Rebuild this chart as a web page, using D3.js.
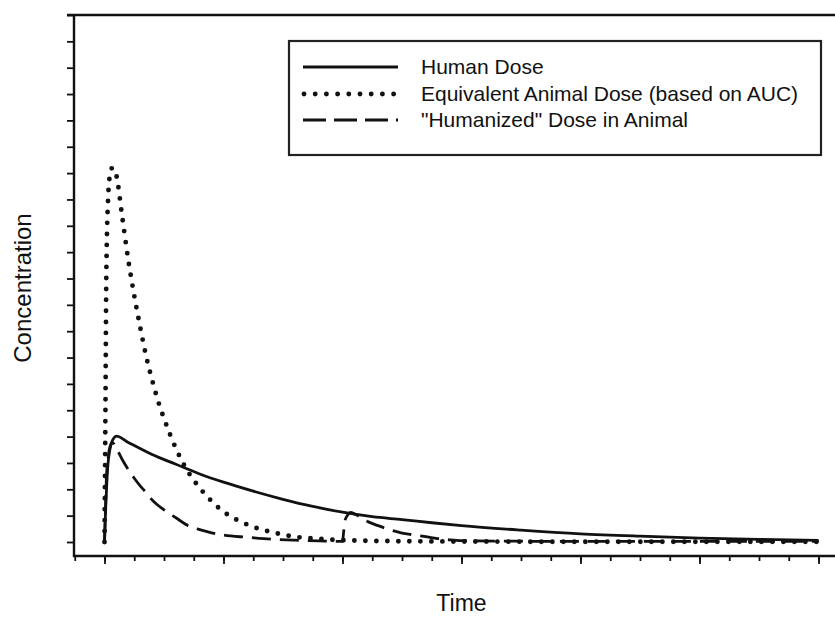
<!DOCTYPE html>
<html>
<head>
<meta charset="utf-8">
<script src="https://cdn.jsdelivr.net/npm/d3@7"></script>
<style>
  html, body { margin: 0; padding: 0; background: #fff; }
  svg { display: block; }
  text { font-family: "Liberation Sans", Arial, sans-serif; fill: #111; }
</style>
</head>
<body>
<svg id="chart" width="835" height="618"></svg>
<script>
// ---- Data ----
const humanTime = [0, 0.01, 0.02, 0.03, 0.045, 0.06, 0.08, 0.1, 0.2, 0.4, 0.6, 0.8, 1.0, 1.25, 1.5, 1.75, 2.0, 2.25, 2.5, 2.75, 3.0, 3.5, 4.0, 4.5, 5.0, 5.5, 6.0];
const humanConc = [0, 1.3, 2.3, 3.0, 3.5, 3.78, 3.95, 4.02, 3.78, 3.32, 2.95, 2.58, 2.27, 1.93, 1.62, 1.35, 1.13, 0.96, 0.85, 0.73, 0.62, 0.45, 0.31, 0.22, 0.15, 0.1, 0.06];

const animalTime = [0, 0.008, 0.015, 0.03, 0.045, 0.066, 0.1, 0.15, 0.2, 0.25, 0.3, 0.35, 0.4, 0.45, 0.5, 0.6, 0.7, 0.8, 0.9, 1.0, 1.1, 1.2, 1.3, 1.4, 1.5, 1.6, 1.8, 2.0, 2.5, 3.0, 4.0, 5.0, 6.0];
const animalConc = [0, 5, 10, 13, 13.9, 14.2, 13.9, 12.3, 10.7, 9.35, 8.15, 7.05, 6.15, 5.35, 4.69, 3.55, 2.68, 2.05, 1.55, 1.15, 0.87, 0.66, 0.5, 0.38, 0.28, 0.2, 0.12, 0.07, 0.03, 0.02, 0.01, 0.01, 0.01];

const humanizedTime = [0, 0.008, 0.015, 0.03, 0.045, 0.066, 0.1, 0.15, 0.2, 0.25, 0.3, 0.35, 0.4, 0.5, 0.6, 0.7, 0.8, 0.9, 1.0, 1.2, 1.4, 1.6, 1.8, 2.0, 2.01, 2.02, 2.04, 2.07, 2.12, 2.2, 2.3, 2.4, 2.5, 2.6, 2.7, 2.8, 2.9, 3.0, 3.5, 4.0, 5.0, 6.0];
const humanizedConc = [0, 1.2, 2.3, 3.2, 3.6, 3.77, 3.55, 3.12, 2.75, 2.42, 2.13, 1.88, 1.6, 1.22, 0.92, 0.63, 0.47, 0.35, 0.26, 0.18, 0.11, 0.07, 0.04, 0.02, 0.4, 0.8, 1.0, 1.12, 1.02, 0.8, 0.62, 0.46, 0.34, 0.27, 0.2, 0.13, 0.08, 0.05, 0.03, 0.02, 0.02, 0.02];

const seriesNames = ["Human Dose", "Equivalent Animal Dose (based on AUC)", "\"Humanized\" Dose in Animal"];
const xMajorTicks = [0, 1, 2, 3, 4, 5, 6];
const xMinorTicks = d3.range(-0.25, 6.01, 0.25);
const yTicks = d3.range(0, 21, 1);
const xTitle = "Time";
const yTitle = "Concentration";

// ---- Layout ----
const svg = d3.select("#chart");
const x = d3.scaleLinear().domain([0, 6]).range([104.5, 818.5]);
const y = d3.scaleLinear().domain([0, 20]).range([542, 15]);
const axisLeftX = 74, axisBottomY = 556, rightEdge = 835, topY = 15;
const ink = "#111";

// Axes ticks
const gx = svg.append("g").attr("transform", `translate(0,${axisBottomY})`);
gx.call(d3.axisBottom(x).tickValues(xMinorTicks).tickSize(5).tickFormat(""));
gx.append("g").call(d3.axisBottom(x).tickValues(xMajorTicks).tickSize(8).tickFormat(""));
gx.selectAll(".domain").remove();
gx.selectAll("line").attr("stroke", ink).attr("stroke-width", 1.8);

const gy = svg.append("g").attr("transform", `translate(${axisLeftX},0)`);
gy.call(d3.axisLeft(y).tickValues(yTicks).tickSize(7).tickFormat(""));
gy.selectAll(".domain").remove();
gy.selectAll("line").attr("stroke", ink).attr("stroke-width", 1.8);

// Frame lines
svg.append("line").attr("x1", axisLeftX).attr("x2", axisLeftX).attr("y1", topY - 1).attr("y2", axisBottomY + 1)
  .attr("stroke", ink).attr("stroke-width", 2.4);
svg.append("line").attr("x1", axisLeftX - 1).attr("x2", rightEdge).attr("y1", axisBottomY).attr("y2", axisBottomY)
  .attr("stroke", ink).attr("stroke-width", 2.4);
svg.append("line").attr("x1", axisLeftX - 7).attr("x2", rightEdge).attr("y1", topY).attr("y2", topY)
  .attr("stroke", ink).attr("stroke-width", 2.4);

// Curves
const line = d3.line().x(d => x(d[0])).y(d => y(d[1])).curve(d3.curveMonotoneX);
const styles = [
  { dash: null, width: 2.8, cap: "butt" },
  { dash: "0 11", width: 4.9, cap: "round" },
  { dash: "19 9", width: 2.8, cap: "butt" }
];
const series = [
  d3.zip(humanTime, humanConc),
  d3.zip(animalTime, animalConc),
  d3.zip(humanizedTime, humanizedConc)
];
series.forEach((s, i) => {
  svg.append("path").datum(s).attr("d", line)
    .attr("fill", "none").attr("stroke", ink)
    .attr("stroke-width", styles[i].width)
    .attr("stroke-linecap", styles[i].cap)
    .attr("stroke-linejoin", "round")
    .attr("stroke-dasharray", styles[i].dash);
});

// Legend
const lg = svg.append("g");
lg.append("rect").attr("x", 289).attr("y", 41).attr("width", 532).attr("height", 114)
  .attr("fill", "#fff").attr("stroke", "#222").attr("stroke-width", 2.2);
const rowY = [67, 94, 120];
const legendStyles = [
  { dash: null, width: 2.8, cap: "butt", x1: 303, x2: 398 },
  { dash: "0 11.2", width: 4.9, cap: "round", x1: 304, x2: 397 },
  { dash: "23 8", width: 2.8, cap: "butt", x1: 303, x2: 398 }
];
seriesNames.forEach((name, i) => {
  const st = legendStyles[i];
  lg.append("line").attr("x1", st.x1).attr("x2", st.x2).attr("y1", rowY[i]).attr("y2", rowY[i])
    .attr("stroke", ink).attr("stroke-width", st.width).attr("stroke-linecap", st.cap)
    .attr("stroke-dasharray", st.dash);
  lg.append("text").attr("x", 421).attr("y", rowY[i]).attr("dy", "0.35em")
    .style("font-size", "21px").text(name);
});

// Axis titles
svg.append("text").attr("x", x(3)).attr("y", 611).attr("text-anchor", "middle")
  .style("font-size", "23px").text(xTitle);
svg.append("text").attr("transform", "translate(31,288) rotate(-90)").attr("text-anchor", "middle")
  .style("font-size", "24px").text(yTitle);
</script>
</body>
</html>
